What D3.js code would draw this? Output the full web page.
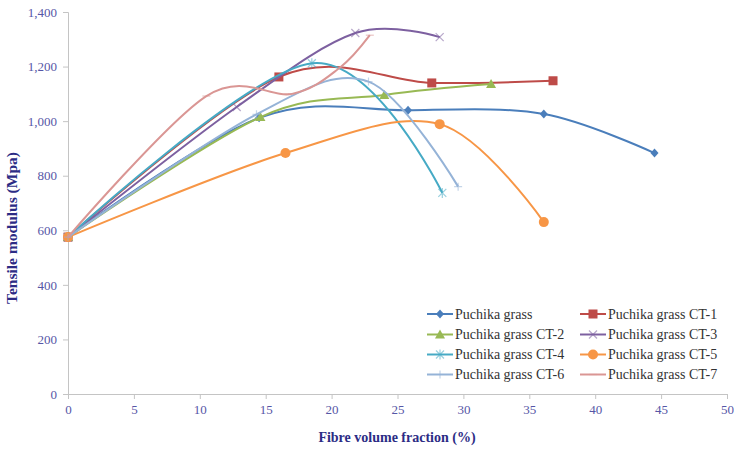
<!DOCTYPE html>
<html><head><meta charset="utf-8">
<script src="https://cdn.jsdelivr.net/npm/d3@7"></script>
<style>body{margin:0;background:#fff}svg{display:block}</style>
</head><body>
<svg id="c" width="734" height="450"></svg>
<script>
// ---- data ----
const seriesNames = ["Puchika grass","Puchika grass CT-1","Puchika grass CT-2","Puchika grass CT-3",
  "Puchika grass CT-4","Puchika grass CT-5","Puchika grass CT-6","Puchika grass CT-7"];
const xGrass = [0, 14.5, 25.8, 36.1, 44.5];
const yGrass = [575, 1012, 1040, 1026, 883];
const xCT1 = [0, 16.0, 27.6, 36.8];
const yCT1 = [575, 1162, 1140, 1148];
const xCT2 = [0, 14.6, 24.0, 32.1];
const yCT2 = [575, 1015, 1096, 1136];
const xCT3 = [0, 12.8, 21.8, 28.2];
const yCT3 = [575, 1052, 1323, 1308];
const xCT4 = [0, 18.5, 28.4];
const yCT4 = [575, 1212, 737];
const xCT5 = [0, 16.5, 28.2, 36.1];
const yCT5 = [575, 883, 989, 630];
const xCT6 = [0, 14.3, 22.8, 29.6];
const yCT6 = [575, 1025, 1145, 760];
const xCT7 = [0, 10.5, 17.0, 20.6, 22.9];
const yCT7 = [575, 1092, 1100, 1195, 1315];
const xTicks = [0,5,10,15,20,25,30,35,40,45,50];
const yTicks = [0,200,400,600,800,1000,1200,1400];

const seriesX = [xGrass,xCT1,xCT2,xCT3,xCT4,xCT5,xCT6,xCT7];
const seriesY = [yGrass,yCT1,yCT2,yCT3,yCT4,yCT5,yCT6,yCT7];
// ---- styles ----
const colors = ["#4A7EBB","#BE4B48","#98B954","#7D60A0","#46AAC5","#F79646","#95B3D7","#DA9694"];
const markers = ["diamond","square","triangle","x","star","circle","plus","dash"];

const svg = d3.select("#c");
const x = d3.scaleLinear().domain([0,50]).range([68,727]);
const y = d3.scaleLinear().domain([0,1400]).range([394,12]);
const tickColor = "#5656A6", titleColor = "#2C2C85", axisColor = "#C4C4C4";
const font = "'Liberation Serif','Times New Roman',serif";

// axes
const gx = svg.append("g").attr("transform","translate(0,394)")
  .call(d3.axisBottom(x).tickValues(xTicks).tickSize(5).tickPadding(6).tickFormat(d3.format("d")));
const gy = svg.append("g").attr("transform","translate(68,0)")
  .call(d3.axisLeft(y).tickValues(yTicks).tickSize(5).tickPadding(6).tickFormat(d3.format(",")));
[gx,gy].forEach(g=>{
  g.select(".domain").attr("stroke",axisColor);
  g.selectAll(".tick line").attr("stroke",axisColor);
  g.selectAll(".tick text").attr("fill",tickColor).style("font-family",font).style("font-size","13px");
});

// titles
svg.append("text").attr("x",397).attr("y",442).attr("text-anchor","middle")
  .attr("fill",titleColor).style("font-family",font).style("font-weight","bold").style("font-size","14px")
  .text("Fibre volume fraction (%)");
svg.append("text").attr("transform","translate(17,228) rotate(-90)").attr("text-anchor","middle")
  .attr("fill",titleColor).style("font-family",font).style("font-weight","bold").style("font-size","15.5px")
  .text("Tensile modulus (Mpa)");

const line = d3.line().x(d=>x(d[0])).y(d=>y(d[1])).curve(d3.curveCardinal.tension(0));

function drawMarker(g, type, cx, cy, color){
  const s = 4;
  switch(type){
    case "diamond":
      g.append("path").attr("d",`M${cx},${cy-s-0.5}L${cx+s},${cy}L${cx},${cy+s+0.5}L${cx-s},${cy}Z`).attr("fill",color); break;
    case "square":
      g.append("rect").attr("x",cx-4.5).attr("y",cy-4.5).attr("width",9).attr("height",9).attr("fill",color); break;
    case "triangle":
      g.append("path").attr("d",`M${cx},${cy-5}L${cx+5},${cy+4}L${cx-5},${cy+4}Z`).attr("fill",color); break;
    case "circle":
      g.append("circle").attr("cx",cx).attr("cy",cy).attr("r",5).attr("fill",color); break;
    case "x":
      g.append("path").attr("d",`M${cx-4},${cy-4}L${cx+4},${cy+4}M${cx-4},${cy+4}L${cx+4},${cy-4}`)
        .attr("stroke",color).attr("stroke-width",1.2).attr("opacity",0.55); break;
    case "star":
      g.append("path").attr("d",`M${cx-4},${cy-4}L${cx+4},${cy+4}M${cx-4},${cy+4}L${cx+4},${cy-4}M${cx},${cy-5}L${cx},${cy+5}`)
        .attr("stroke",color).attr("stroke-width",1.2).attr("opacity",0.55); break;
    case "plus":
      g.append("path").attr("d",`M${cx-4},${cy}L${cx+4},${cy}M${cx},${cy-4}L${cx},${cy+4}`)
        .attr("stroke",color).attr("stroke-width",1.2).attr("opacity",0.55); break;
    case "dash":
      g.append("path").attr("d",`M${cx-4},${cy}L${cx+4},${cy}`)
        .attr("stroke",color).attr("stroke-width",1.2).attr("opacity",0.55); break;
  }
}

const plot = svg.append("g");
seriesNames.forEach((n,i)=>{
  const pts = seriesX[i].map((v,j)=>[v, seriesY[i][j]]);
  const g = plot.append("g");
  g.append("path").attr("d", line(pts)).attr("fill","none").attr("stroke",colors[i]).attr("stroke-width",2);
  pts.forEach(p=>drawMarker(g, markers[i], x(p[0]), y(p[1]), colors[i]));
});

// legend
const legend = svg.append("g");
legend.append("rect").attr("x",415).attr("y",302).attr("width",315).attr("height",84).attr("fill","#fff");
const colX = [427, 580], rowY = [314, 334.5, 354.5, 374.5];
seriesNames.forEach((n,i)=>{
  const cx = colX[i%2], cy = rowY[Math.floor(i/2)];
  legend.append("line").attr("x1",cx).attr("x2",cx+26).attr("y1",cy).attr("y2",cy)
    .attr("stroke",colors[i]).attr("stroke-width",2);
  drawMarker(legend, markers[i], cx+13, cy, colors[i]);
  legend.append("text").attr("x",cx+28).attr("y",cy+4.5).attr("fill","#333")
    .style("font-family",font).style("font-size","14px").text(n);
});
</script>
</body></html>
